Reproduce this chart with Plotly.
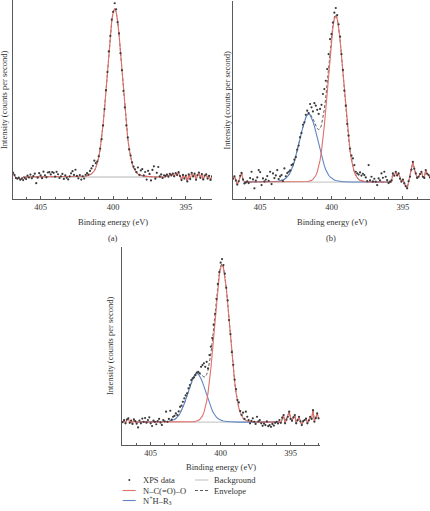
import numpy as np
import plotly.graph_objects as go

W, H = 430, 511

# binding-energy sampling of the spectra (eV)
energy = [round(407.0 - 0.1 * i, 1) for i in range(141)]

# XPS N1s data (arbitrary intensity units, background = 0)
a_counts = [2.8,
            2.5, 1.2, -0.6, -1.0, -0.4, -1.6, -0.9, -1.8, -0.5, -1.2,
            0.8, -0.3, 1.4, -0.8, 0.5, 1.9, -3.6, -0.4, 2.2, 0.9,
            -0.7, 3.1, 1.0, -0.2, 2.6, 2.8, 1.5, 2.9, 2.4, 0.2,
            3.0, 1.6, -0.6, 0.4, 1.8, -1.1, 0.9, -0.5, -1.4, 0.3,
            2.1, 3.4, 1.2, 4.2, 0.6, -0.8, 1.1, -1.5, 0.4, -0.9,
            1.3, 2.2, 1.4, 3.5, 5.0, 6.5, 9.5, 8.0, 9.0, 12.0,
            16.5, 22.0, 30.0, 39.5, 50.5, 61.0, 73.0, 82.0, 91.5, 96.0,
            101.0, 97.5, 90.0, 83.5, 72.0, 62.0, 50.0, 40.5, 30.0, 23.0,
            16.0, 12.5, 8.5, 6.0, 4.5, 2.8, 5.5, 1.2, 3.8, 4.6,
            0.9, 2.9, -1.5, 3.6, 1.8, -2.0, 4.1, 6.2, -1.0, 2.4,
            5.8, 0.3, 1.5, -0.6, 1.0, 0.6, 1.4, 0.2, 1.8, 0.9,
            2.0, 0.4, 2.3, 1.1, 2.8, 0.5, -1.8, 1.2, -0.9, 0.8,
            -2.6, 1.5, -1.2, 2.4, 0.3, 1.9, -1.6, 1.0, 2.6, -0.5,
            1.7, -1.4, 0.8, 1.6, -0.9, 0.7, -1.7, 0.4,
            1.2, -0.6]

b_counts = [1.5, 2.0, 3.5, 1.0, -1.5, 0.5, 3.8, 5.5, 1.5, -0.8,
            -0.3, 0.5, -0.6, 2.4, 6.2, 1.6, -3.8, 0.9, 2.8, 7.2,
            6.0, -1.8, 2.2, 0.4, 1.5, 3.6, 0.8, 6.2, -1.2, 5.2,
            2.4, 4.0, 7.2, 1.8, 3.4, 4.2, 0.6, 8.2, 3.5, 5.4,
            6.2, 7.0, 10.2, 10.8, 13.5, 15.0, 19.5, 22.0, 27.0, 29.5,
            34.5, 36.0, 40.5, 43.0, 41.5, 47.0, 45.0, 42.5, 47.5, 46.0,
            43.5, 41.0, 44.0, 46.5, 53.0, 56.0, 61.0, 68.0, 77.0, 86.0,
            89.0, 96.0, 102.0, 104.8, 100.5, 95.0, 87.5, 77.0, 67.5, 55.0,
            46.0, 35.0, 28.0, 20.2, 16.0, 14.2, 10.2, 6.2, 5.2, 4.5,
            5.8, 3.9, 5.0, 4.2, 2.8, 0.6, 10.2, 1.0, 3.2, 0.4,
            2.0, 0.2, -1.8, 2.2, 1.0, 5.2, 2.6, 6.2, 3.2, 1.2,
            -0.6, 0.2, 1.0, 5.2, 3.8, 6.2, 4.0, 5.2, 2.0, 0.2,
            1.5, -0.8, -2.5, -3.8, 0.5, 3.2, 7.5, 12.2, 8.0, 5.2,
            2.5, 3.2, 4.8, 6.2, 3.2, 2.5, 7.2, 5.0, 4.2, 2.8, 3.5]

c_counts = [0.0, 1.2, -0.8, 1.6, 2.4, -0.5, 1.0, -1.2, 1.8, 0.6,
            -1.0, -3.4, 1.0, -0.8, 2.2, 0.2, 2.6, -0.4, 1.3, 3.0,
            -0.8, -2.5, 0.9, 0.2, -1.4, 0.6, 2.0, -0.3, -1.8, 1.3,
            0.5, 6.6, 0.2, 2.0, 7.2, 1.5, 3.4, 4.0, 5.5, 4.5,
            6.8, 9.7, 10.5, 12.9, 15.1, 17.0, 18.3, 21.5, 23.6, 26.8,
            27.8, 28.5, 29.9, 31.5, 32.0, 31.0, 35.2, 36.3, 37.4, 35.2,
            38.4, 34.2, 42.7, 48.0, 53.5, 62.0, 69.0, 78.5, 88.0, 95.5,
            101.5, 103.8, 100.0, 94.5, 85.5, 77.5, 65.0, 56.0, 44.5, 36.5,
            27.0, 21.0, 14.0, 12.5, 7.0, 4.5, 6.0, 2.0, 6.6, 3.4,
            1.3, -0.8, 0.8, 2.4, 0.2, -1.2, 3.4, 0.5, 1.3, -0.8,
            -2.4, -1.0, -1.9, 0.4, -2.6, -1.9, -3.0, -1.2, -2.2, -0.5,
            0.2, -0.9, 1.3, -0.5, 2.8, 4.5, -0.8, 1.5, 3.4, 6.6,
            2.0, 0.8, 3.0, 4.5, -0.8, 1.2, 3.4, 0.5, -1.9, 0.6,
            1.3, 2.2, -0.8, 1.0, 3.4, 2.0, 7.6, 0.2, 2.5, 5.5, 2.4]

# fit windows (high BE, low BE)
a_fit_window = [406.2, 396.4]
b_fit_window = [406.1, 395.8]
c_fit_window = [406.1, 395.8]

# fitted components, sampled every 0.1 eV from the start energy downwards
a_amide_start = 402.4
a_amide = [0.1, 0.2, 0.2, 0.3, 0.4, 0.5, 0.7, 0.9, 1.3, 1.8,
           2.5, 3.6, 5.4, 7.8, 11.3, 16.2, 22.5, 30.4, 39.7, 50.5,
           61.5, 72.5, 82.8, 90.9, 96.0, 98.0, 96.0, 90.9, 82.8, 72.5,
           61.5, 50.5, 39.7, 30.4, 22.5, 16.2, 11.3, 7.8, 5.4, 3.6,
           2.5, 1.8, 1.3, 0.9, 0.7, 0.5, 0.4, 0.3, 0.2, 0.2, 0.1]

b_amide_start = 402.2
b_amide = [0.0, 0.1, 0.1, 0.2, 0.2, 0.3, 0.5, 0.7, 1.0, 1.6,
           2.5, 3.9, 6.0, 9.0, 13.2, 18.8, 25.8, 34.2, 43.8, 54.2,
           65.0, 75.8, 85.5, 93.2, 98.2, 100.0, 98.2, 93.2, 85.5, 75.8,
           65.0, 54.2, 43.8, 34.2, 25.8, 18.8, 13.2, 9.0, 6.0, 3.9,
           2.5, 1.6, 1.0, 0.7, 0.5, 0.3, 0.2, 0.2, 0.1, 0.1, 0.0]
b_amine_start = 404.1
b_amine = [0.2, 0.2, 0.3, 0.4, 0.5, 0.7, 0.9, 1.2, 1.7, 2.3,
           3.1, 4.1, 5.6, 7.4, 9.7, 12.3, 15.5, 18.9, 22.6, 26.2,
           30.1, 33.6, 36.5, 38.8, 40.4, 41.0, 40.4, 38.8, 36.5, 33.6,
           30.1, 26.2, 22.6, 18.9, 15.5, 12.3, 9.7, 7.4, 5.6, 4.1,
           3.1, 2.3, 1.7, 1.2, 0.9, 0.7, 0.5, 0.4, 0.3, 0.2, 0.2]

c_amide_start = 402.4
c_amide = list(b_amide)
c_amine_start = 404.2
c_amine = [0.1, 0.2, 0.2, 0.3, 0.4, 0.5, 0.7, 0.9, 1.3, 1.7,
           2.3, 3.1, 4.2, 5.6, 7.3, 9.3, 11.7, 14.3, 17.1, 19.8,
           22.8, 25.4, 27.6, 29.4, 30.6, 31.0, 30.6, 29.4, 27.6, 25.4,
           22.8, 19.8, 17.1, 14.3, 11.7, 9.3, 7.3, 5.6, 4.2, 3.1,
           2.3, 1.7, 1.3, 0.9, 0.7, 0.5, 0.4, 0.3, 0.2, 0.2, 0.1]

x_ticks = [405, 400, 395]

RED = '#e2706a'
BLUE = '#5f86c4'
GRAY = '#cccccc'
ENV = '#4a4a4a'
DATA = '#3a3a3a'
AX = '#5a5a5a'
TXT = '#333333'
FONT = 'Liberation Serif'


def on_grid(grid, start, vals):
    e = np.array([round(start - 0.1 * k, 1) for k in range(len(vals))])
    return np.interp(grid, e[::-1], np.array(vals)[::-1], left=0.0, right=0.0)


panels = [
    dict(counts=a_counts, win=a_fit_window,
         comps=[(a_amide_start, a_amide, RED)],
         xr=[406.9, 393.2], yr=[-12.8, 102.9], px=[13, 212], py=[0, 199]),
    dict(counts=b_counts, win=b_fit_window,
         comps=[(b_amine_start, b_amine, BLUE), (b_amide_start, b_amide, RED)],
         xr=[406.9, 393.1], yr=[-10.2, 109.0], px=[233, 430], py=[1, 199]),
    dict(counts=c_counts, win=c_fit_window,
         comps=[(c_amine_start, c_amine, BLUE), (c_amide_start, c_amide, RED)],
         xr=[407.05, 392.9], yr=[-14.6, 111.5], px=[122, 320], py=[247, 445]),
]

fig = go.Figure()
E = np.array(energy)
layout_axes = {}
for k, p in enumerate(panels, start=1):
    xa = 'x' if k == 1 else f'x{k}'
    ya = 'y' if k == 1 else f'y{k}'
    y = np.array(p['counts'])
    hi, lo = p['win']
    inside = (E <= hi + 1e-9) & (E >= lo - 1e-9)
    left = E > hi + 1e-9
    right = E < lo - 1e-9
    fe = E[inside]
    bg = np.zeros(len(fe))
    comp_vals = [bg + on_grid(fe, s, v) for s, v, c in p['comps']]
    env = bg + sum(on_grid(fe, s, v) for s, v, c in p['comps'])

    def with_edges(vals):
        return (np.concatenate([E[left], fe, E[right]]),
                np.concatenate([y[left], vals, y[right]]))

    fig.add_trace(go.Scatter(x=fe, y=bg, mode='lines', xaxis=xa, yaxis=ya,
                             line=dict(color=GRAY, width=1.3), showlegend=False))
    ex, ey = with_edges(env)
    fig.add_trace(go.Scatter(x=ex, y=ey, mode='lines', xaxis=xa, yaxis=ya,
                             line=dict(color=ENV, width=0.9, dash='3px,2px'), showlegend=False))
    for (s, v, c), cv in zip(p['comps'], comp_vals):
        if c == RED:
            cx, cy = with_edges(cv)
        else:
            cx, cy = fe, cv
        fig.add_trace(go.Scatter(x=cx, y=cy, mode='lines', xaxis=xa, yaxis=ya,
                                 line=dict(color=c, width=1.1), showlegend=False))
    fig.add_trace(go.Scatter(x=E, y=y, mode='markers', xaxis=xa, yaxis=ya,
                             marker=dict(color=DATA, size=2.2, line=dict(width=0)),
                             showlegend=False))

    x0, x1 = p['px']
    y0, y1 = p['py']
    layout_axes['xaxis' if k == 1 else f'xaxis{k}'] = dict(
        domain=[x0 / W, x1 / W], range=p['xr'], anchor=ya,
        showline=True, linecolor=AX, linewidth=1, showgrid=False, zeroline=False,
        tickmode='array', tickvals=x_ticks, ticks='inside', ticklen=3, tickcolor=AX,
        tickfont=dict(family=FONT, size=8.5, color=TXT),
        minor=dict(tickmode='linear', tick0=0, dtick=1, ticks='inside', ticklen=2,
                   tickcolor=AX, showgrid=False))
    layout_axes['yaxis' if k == 1 else f'yaxis{k}'] = dict(
        domain=[1 - y1 / H, 1 - y0 / H], range=p['yr'], anchor=xa,
        showline=True, linecolor=AX, linewidth=1, showgrid=False, zeroline=False,
        showticklabels=False, ticks='')


def px(x):
    return x / W


def py(yv):
    return 1 - yv / H


ann = []
def text(x, yv, s, angle=0, anchor='center'):
    ann.append(dict(x=px(x), y=py(yv), xref='paper', yref='paper', text=s, showarrow=False,
                    textangle=angle, xanchor=anchor, yanchor='middle',
                    font=dict(family=FONT, size=8.5, color=TXT)))

for (cx, cy) in [(4, 100), (226.5, 100), (110, 346)]:
    text(cx, cy, 'Intensity (counts per second)', angle=-90)
for (cx, cy) in [(112.5, 222), (331.5, 222), (221, 467)]:
    text(cx, cy, 'Binding energy (eV)')
text(113, 238, '(a)')
text(331, 238, '(b)')

# legend
text(140.7, 480, 'XPS data', anchor='left')
text(140.7, 490.5, 'N–C(=O)–O', anchor='left')
text(140.7, 500.5, 'N<sup>+</sup>H–R<sub>3</sub>', anchor='left')
text(212.3, 480, 'Background', anchor='left')
text(212.3, 490.5, 'Envelope', anchor='left')

shapes = [
    dict(type='circle', xref='paper', yref='paper', x0=px(128.3), x1=px(130.3),
         y0=py(481), y1=py(479), fillcolor=DATA, line=dict(width=0)),
    dict(type='line', xref='paper', yref='paper', x0=px(122.7), x1=px(135.7),
         y0=py(490.5), y1=py(490.5), line=dict(color=RED, width=1.1)),
    dict(type='line', xref='paper', yref='paper', x0=px(122.7), x1=px(135.7),
         y0=py(500.5), y1=py(500.5), line=dict(color=BLUE, width=1.1)),
    dict(type='line', xref='paper', yref='paper', x0=px(195), x1=px(208.3),
         y0=py(480), y1=py(480), line=dict(color=GRAY, width=1.3)),
    dict(type='line', xref='paper', yref='paper', x0=px(195), x1=px(208.3),
         y0=py(490.5), y1=py(490.5), line=dict(color=ENV, width=0.9, dash='3px,2px')),
]

fig.update_layout(width=W, height=H, margin=dict(l=0, r=0, t=0, b=0),
                  paper_bgcolor='white', plot_bgcolor='white',
                  annotations=ann, shapes=shapes, showlegend=False,
                  **layout_axes)

fig.write_html('out.html')
